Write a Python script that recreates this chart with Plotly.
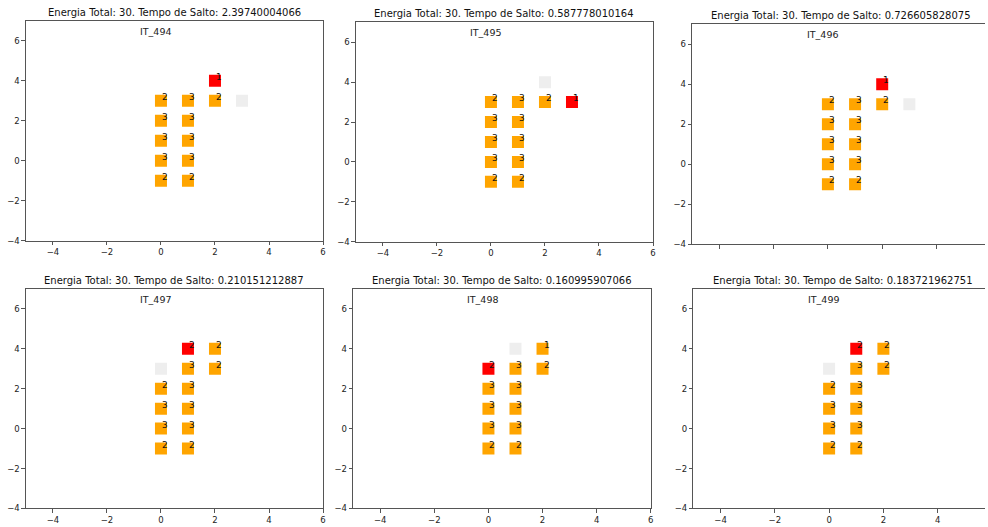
import plotly.graph_objects as go

W, H = 988, 527

# ---- data ----
iterations = ["IT_494", "IT_495", "IT_496", "IT_497", "IT_498", "IT_499"]
jump_times = ["2.39740004066", "0.587778010164", "0.726605828075",
              "0.210151212887", "0.160995907066", "0.183721962751"]
total_energy = "30."

# orange cells per panel: x, y, label
orange_x = [
    [0, 1, 2, 0, 1, 0, 1, 0, 1, 0, 1],
    [0, 1, 2, 0, 1, 0, 1, 0, 1, 0, 1],
    [0, 1, 2, 0, 1, 0, 1, 0, 1, 0, 1],
    [2, 1, 2, 0, 1, 0, 1, 0, 1, 0, 1],
    [2, 1, 2, 0, 1, 0, 1, 0, 1, 0, 1],
    [2, 1, 2, 0, 1, 0, 1, 0, 1, 0, 1],
]
orange_y = [
    [3, 3, 3, 2, 2, 1, 1, 0, 0, -1, -1],
    [3, 3, 3, 2, 2, 1, 1, 0, 0, -1, -1],
    [3, 3, 3, 2, 2, 1, 1, 0, 0, -1, -1],
    [4, 3, 3, 2, 2, 1, 1, 0, 0, -1, -1],
    [4, 3, 3, 2, 2, 1, 1, 0, 0, -1, -1],
    [4, 3, 3, 2, 2, 1, 1, 0, 0, -1, -1],
]
orange_lbl = [
    ["2", "3", "2", "3", "3", "3", "3", "3", "3", "2", "2"],
    ["2", "3", "2", "3", "3", "3", "3", "3", "3", "2", "2"],
    ["2", "3", "2", "3", "3", "3", "3", "3", "3", "2", "2"],
    ["2", "3", "2", "2", "3", "3", "3", "3", "3", "2", "2"],
    ["1", "3", "2", "3", "3", "3", "3", "3", "3", "2", "2"],
    ["2", "3", "2", "2", "3", "3", "3", "3", "3", "2", "2"],
]
red_x = [2, 3, 2, 1, 0, 1]
red_y = [4, 3, 4, 4, 3, 4]
red_lbl = ["1", "1", "1", "2", "2", "2"]
grey_x = [3, 2, 3, 0, 1, 0]
grey_y = [3, 4, 3, 3, 4, 3]

x_ticks = [-4, -2, 0, 2, 4, 6]
y_ticks = [-4, -2, 0, 2, 4, 6]

# ---- layout geometry (pixels) ----
boxes = [  # left, right, top, bottom
    (26, 324, 21, 243),
    (357, 655, 22.5, 244),
    (694.3, 988, 24.3, 246.7),
    (26, 324, 291.7, 513.3),
    (354.3, 652.7, 291.7, 513.3),
    (695.5, 988, 291.7, 513.3),
]
full_width = [298, 298, 299.5, 298, 298.4, 299.5]  # width of full (-5..6) axes
clipped = [False, False, True, False, False, True]

ORANGE = "#FFA500"
RED = "#FF0000"
GREY = "#EEEEEE"
SPINE = "#555555"
FONT = "DejaVu Sans"

fig = go.Figure()
annotations = []
layout_axes = {}

for i in range(6):
    sfx = "" if i == 0 else str(i + 1)
    xa, ya = "x" + sfx, "y" + sfx
    l, r, t, b = boxes[i]
    # markers
    fig.add_trace(go.Scatter(x=[grey_x[i]], y=[grey_y[i]], mode="markers",
                             marker=dict(symbol="square", size=12, color=GREY),
                             xaxis=xa, yaxis=ya, hoverinfo="skip"))
    fig.add_trace(go.Scatter(x=orange_x[i], y=orange_y[i], mode="markers",
                             marker=dict(symbol="square", size=12, color=ORANGE),
                             xaxis=xa, yaxis=ya, hoverinfo="skip"))
    fig.add_trace(go.Scatter(x=[red_x[i]], y=[red_y[i]], mode="markers",
                             marker=dict(symbol="square", size=12, color=RED),
                             xaxis=xa, yaxis=ya, hoverinfo="skip"))
    # labels on cells
    xs = orange_x[i] + [red_x[i]]
    ys = orange_y[i] + [red_y[i]]
    ls = orange_lbl[i] + [red_lbl[i]]
    for xv, yv, lv in zip(xs, ys, ls):
        annotations.append(dict(x=xv, y=yv, xref=xa, yref=ya, text=lv,
                                showarrow=False, xanchor="left", yanchor="bottom",
                                xshift=-1, yshift=-3,
                                font=dict(family=FONT, size=9, color="#111111")))
    # iteration label
    annotations.append(dict(x=-0.85, y=6.25, xref=xa, yref=ya, text=iterations[i],
                            showarrow=False, xanchor="left", yanchor="bottom",
                            yshift=-3, font=dict(family=FONT, size=9.5, color="#222222")))
    # title
    cx = (l + full_width[i] / 2) / W
    annotations.append(dict(x=cx, y=1 - t / H, xref="paper", yref="paper",
                            text=f"Energia Total: {total_energy} Tempo de Salto: {jump_times[i]}",
                            showarrow=False, xanchor="center", yanchor="bottom",
                            yshift=1, font=dict(family=FONT, size=10, color="#111111")))
    xmax = -5 + 11 * (r - l) / full_width[i] if clipped[i] else 6
    layout_axes["xaxis" + sfx] = dict(
        domain=[l / W, r / W], range=[-5, xmax], anchor=ya,
        tickvals=x_ticks, ticks="outside", ticklen=3.5, tickcolor=SPINE,
        showticklabels=(i != 2),
        showgrid=False, zeroline=False, showline=True, linecolor=SPINE, linewidth=1,
        mirror=True, tickfont=dict(family=FONT, size=8.5, color="#222222"),
    )
    layout_axes["yaxis" + sfx] = dict(
        domain=[1 - b / H, 1 - t / H], range=[-4, 7], anchor=xa,
        tickvals=y_ticks, ticks="outside", ticklen=3.5, tickcolor=SPINE,
        showgrid=False, zeroline=False, showline=True, linecolor=SPINE, linewidth=1,
        mirror=(not clipped[i]), tickfont=dict(family=FONT, size=8.5, color="#222222"),
    )

fig.update_layout(width=W, height=H, margin=dict(l=0, r=0, t=0, b=0),
                  paper_bgcolor="white", plot_bgcolor="white", showlegend=False,
                  annotations=annotations, **layout_axes)

fig.write_html("out.html", config={"displayModeBar": False},
               post_script="document.body.style.margin='0';document.body.style.overflow='hidden';")
